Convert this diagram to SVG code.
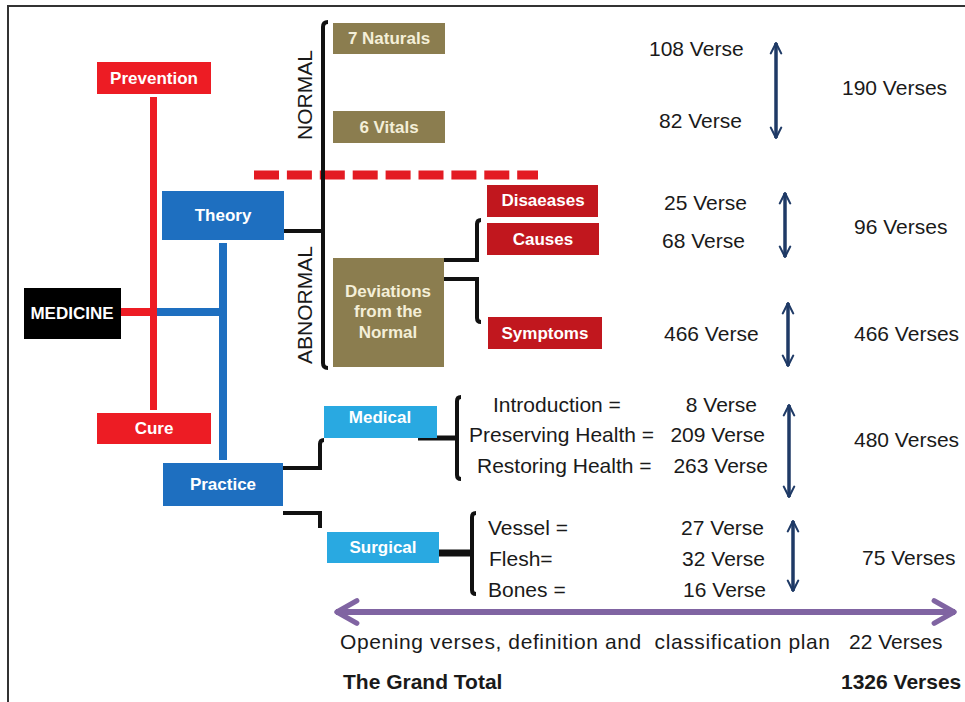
<svg xmlns="http://www.w3.org/2000/svg" width="965" height="702" viewBox="0 0 965 702">
<defs>
<style>
.bx{font-family:"Liberation Sans",Arial,sans-serif;font-weight:bold;font-size:17px;fill:#ffffff;text-anchor:middle}
.ol{fill:#f4efd8}
.t{font-family:"Liberation Sans",Arial,sans-serif;font-size:21px;fill:#1a1a1a;white-space:pre}
.b{font-weight:bold}
.e{text-anchor:end}
.k{fill:none;stroke:#111;stroke-width:4;stroke-linecap:butt}
.nv{stroke:#1f3a66;stroke-width:3.5;fill:none;marker-start:url(#nh);marker-end:url(#nh)}
</style>
<marker id="nh" viewBox="0 0 10 10" refX="9" refY="5" markerWidth="13" markerHeight="14" markerUnits="userSpaceOnUse" orient="auto-start-reverse">
<path d="M1,1 L9,5 L1,9" fill="none" stroke="#1f3a66" stroke-width="1.6" stroke-linecap="round" stroke-linejoin="round"/>
</marker>
<marker id="ph" viewBox="0 0 30 30" refX="28" refY="15" markerWidth="26" markerHeight="28" markerUnits="userSpaceOnUse" orient="auto-start-reverse">
<path d="M4,2 L27,15 L4,28" fill="none" stroke="#8064a2" stroke-width="6" stroke-linecap="round" stroke-linejoin="round"/>
</marker>
</defs>
<rect x="0" y="0" width="965" height="702" fill="#ffffff"/>
<path d="M8,702 V6 H965" fill="none" stroke="#333" stroke-width="2"/>

<g id="connectors">
<rect x="150" y="97" width="7" height="313" fill="#ed1c24"/>
<rect x="121" y="308" width="36" height="8" fill="#ed1c24"/>
<rect x="157" y="308" width="70" height="8" fill="#1e6fc0"/>
<rect x="219" y="243" width="8" height="217" fill="#1e6fc0"/>
<line x1="254" y1="175" x2="538" y2="175" stroke="#e31b23" stroke-width="9" stroke-dasharray="25 7.9"/>
<path class="k" d="M328,22 Q323,22 323,27 V363 Q323,368 328,368"/>
<path class="k" d="M284,231 H323"/>
<path class="k" d="M439,260 H477 V224 Q477,220 481,220"/>
<path class="k" d="M437,279 H477 V318 Q477,322 481,322"/>
<path class="k" d="M283,468 H320 V444 Q320,440 324,440"/>
<path class="k" d="M283,513 H320 V528"/>
<path class="k" style="stroke-width:5" d="M418,438 H457"/>
<path class="k" d="M461,397 Q457,397 457,401 V475 Q457,479 461,479"/>
<path class="k" style="stroke-width:7" d="M434,553 H472"/>
<path class="k" d="M476,513 Q472,513 472,517 V590 Q472,594 476,594"/>
<line class="nv" x1="776" y1="43" x2="776" y2="138"/>
<line class="nv" x1="785" y1="193" x2="785" y2="257"/>
<line class="nv" x1="788" y1="303" x2="788" y2="366"/>
<line class="nv" x1="789" y1="405" x2="789" y2="497"/>
<line class="nv" x1="793" y1="521" x2="793" y2="591"/>
<line x1="336" y1="612" x2="955" y2="612" stroke="#8064a2" stroke-width="6" marker-start="url(#ph)" marker-end="url(#ph)"/>
</g>

<g id="prevention"><rect x="97" y="62" width="114" height="32" fill="#ed1c24"/><text class="bx" x="154" y="84">Prevention</text></g>
<g id="cure"><rect x="97" y="413" width="114" height="31" fill="#ed1c24"/><text class="bx" x="154" y="434">Cure</text></g>
<g id="medicine"><rect x="24" y="288" width="97" height="51" fill="#000000"/><text class="bx" x="72" y="319" font-size="16">MEDICINE</text></g>
<g id="theory"><rect x="162" y="191" width="122" height="49" fill="#1e6fc0"/><text class="bx" x="223" y="221">Theory</text></g>
<g id="practice"><rect x="163" y="463" width="120" height="43" fill="#1e6fc0"/><text class="bx" x="223" y="490">Practice</text></g>

<g id="normal-label"><text class="t" font-size="22" text-anchor="middle" transform="translate(312,95) rotate(-90)">NORMAL</text></g>
<g id="abnormal-label"><text class="t" font-size="22" text-anchor="middle" transform="translate(312,305) rotate(-90)">ABNORMAL</text></g>

<g id="naturals"><rect x="333" y="23" width="112" height="31" fill="#8b7d4f"/><text class="bx ol" x="389" y="44">7 Naturals</text></g>
<g id="vitals"><rect x="333" y="111" width="112" height="32" fill="#8b7d4f"/><text class="bx ol" x="389" y="133">6 Vitals</text></g>
<g id="deviations"><rect x="333" y="258" width="111" height="109" fill="#8b7d4f"/>
<text class="bx ol" x="388" y="297">Deviations</text><text class="bx ol" x="388" y="317">from the</text><text class="bx ol" x="388" y="338">Normal</text></g>

<g id="diseases"><rect x="487" y="185" width="111" height="32" fill="#c1171e"/><text class="bx" x="543" y="206">Disaeases</text></g>
<g id="causes"><rect x="487" y="223" width="112" height="32" fill="#c1171e"/><text class="bx" x="543" y="245">Causes</text></g>
<g id="symptoms"><rect x="488" y="317" width="114" height="32" fill="#c1171e"/><text class="bx" x="545" y="339">Symptoms</text></g>

<g id="medical"><rect x="324" y="406" width="113" height="32" fill="#29a9e1"/><text class="bx" x="380" y="423">Medical</text></g>
<g id="surgical"><rect x="327" y="532" width="112" height="31" fill="#29a9e1"/><text class="bx" x="383" y="553" font-size="16">Surgical</text></g>

<g id="counts">
<text class="t" x="649" y="56">108 Verse</text>
<text class="t" x="659" y="128">82 Verse</text>
<text class="t" x="842" y="95">190 Verses</text>
<text class="t" x="664" y="210">25 Verse</text>
<text class="t" x="662" y="248">68 Verse</text>
<text class="t" x="854" y="234">96 Verses</text>
<text class="t" x="664" y="341">466 Verse</text>
<text class="t" x="854" y="341">466 Verses</text>
<text class="t" x="493" y="412">Introduction =</text>
<text class="t e" x="757" y="412">8 Verse</text>
<text class="t" x="469" y="442">Preserving Health =</text>
<text class="t e" x="765" y="442">209 Verse</text>
<text class="t" x="477" y="473">Restoring Health =</text>
<text class="t e" x="768" y="473">263 Verse</text>
<text class="t" x="854" y="447">480 Verses</text>
<text class="t" x="488" y="535">Vessel =</text>
<text class="t e" x="764" y="535">27 Verse</text>
<text class="t" x="489" y="566">Flesh=</text>
<text class="t e" x="765" y="566">32 Verse</text>
<text class="t" x="488" y="597">Bones =</text>
<text class="t e" x="766" y="597">16 Verse</text>
<text class="t" x="862" y="565">75 Verses</text>
<text class="t" x="340" y="649" textLength="490" lengthAdjust="spacing">Opening verses, definition and  classification plan</text>
<text class="t" x="849" y="649">22 Verses</text>
<text class="t b" x="343" y="689">The Grand Total</text>
<text class="t b" x="841" y="689">1326 Verses</text>
</g>
</svg>
